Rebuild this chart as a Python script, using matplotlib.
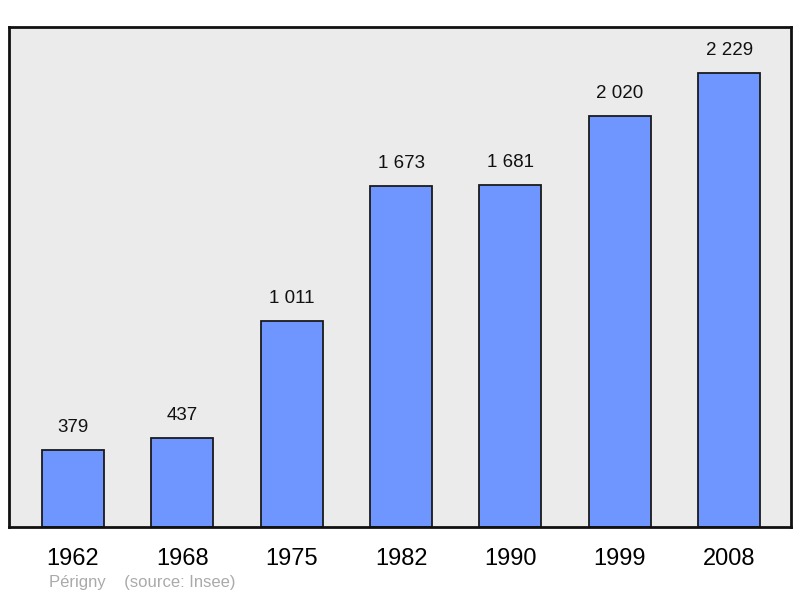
import matplotlib
matplotlib.use("Agg")
import matplotlib.pyplot as plt

years = ["1962", "1968", "1975", "1982", "1990", "1999", "2008"]
population = [379, 437, 1011, 1673, 1681, 2020, 2229]
labels = ["379", "437", "1 011", "1 673", "1 681", "2 020", "2 229"]

plt.rcParams["font.family"] = ["Liberation Sans", "DejaVu Sans"]

fig = plt.figure(figsize=(8.0, 5.98), dpi=100)
# axes box in pixels: left 9, right 791, top 27, bottom 527
ax = fig.add_axes([9 / 800, 1 - 527 / 598, 782 / 800, 500 / 598])
ax.set_facecolor("#ebebeb")

x = list(range(len(years)))
ax.bar(x, population, width=0.567, color="#6f96ff", edgecolor="#1a1a1a",
       linewidth=1.3, zorder=2)

for xi, v, lab in zip(x, population, labels):
    ax.annotate(lab, (xi, v), xytext=(0, 10), textcoords="offset points",
                ha="center", va="bottom", fontsize=13.5, color="#111111")

ax.set_xlim(-0.585, 6.565)
ax.set_ylim(0, 2455)
ax.set_xticks(x)
ax.set_xticklabels(years, fontsize=17)
ax.tick_params(axis="x", length=0, pad=15)
ax.set_yticks([])
for s in ax.spines.values():
    s.set_linewidth(2)
    s.set_color("#111111")

fig.text(49 / 800, 1 - 583 / 598, "Périgny    (source: Insee)", fontsize=12,
         color="#aaaaaa", ha="left", va="center")

fig.savefig("out.png", dpi=100)
